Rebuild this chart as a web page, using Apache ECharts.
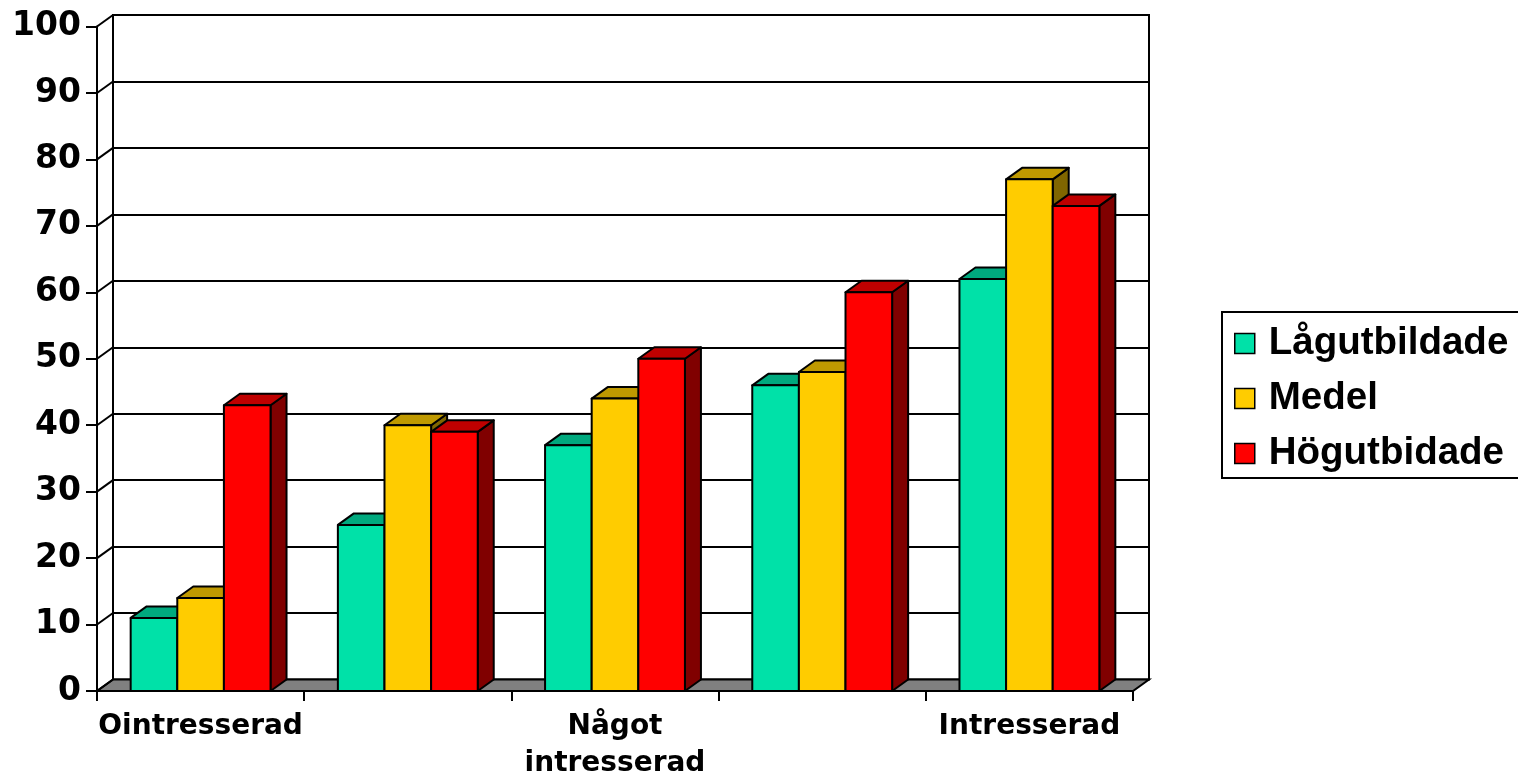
<!DOCTYPE html>
<html><head><meta charset="utf-8">
<script src="https://cdn.jsdelivr.net/npm/echarts@6/dist/echarts.min.js"></script>
<style>html,body{margin:0;padding:0;background:#fff}#c{width:1518px;height:781px}</style>
</head><body><div id="c"></div>
<script>
const categories = ['Ointresserad', '', 'Något intresserad', '', 'Intresserad'];
const seriesNames = ['Lågutbildade', 'Medel', 'Högutbidade'];
const lagutbildade = [11, 25, 37, 46, 62];
const medel = [14, 40, 44, 48, 77];
const hogutbidade = [43, 39, 50, 60, 73];
const yTicks = [0, 10, 20, 30, 40, 50, 60, 70, 80, 90, 100];

const seriesValues = [lagutbildade, medel, hogutbidade];
const faceColors = [
  {front: '#00E1A8', top: '#00A97E', side: '#007154'},
  {front: '#FFCC00', top: '#BF9900', side: '#806600'},
  {front: '#FF0000', top: '#BF0000', side: '#800000'}
];
const DX = 16, DY = -11.5;
const BAR_FRAC = 0.225;

function barRenderer(si) {
  return function (params, api) {
    const cat = api.value(0), val = api.value(1);
    const top = api.coord([cat, val]);
    const base = api.coord([cat, 0]);
    const cw = api.size([1, 0])[0];
    const bw = cw * BAR_FRAC;
    const x0 = top[0] - 1.5 * bw + si * bw;
    const x1 = x0 + bw;
    const yt = top[1], yb = base[1];
    const c = faceColors[si];
    const ls = {stroke: '#000', lineWidth: 2, lineJoin: 'round'};
    return {type: 'group', children: [
      {type: 'polygon', shape: {points: [[x1, yb], [x1 + DX, yb + DY], [x1 + DX, yt + DY], [x1, yt]]}, style: Object.assign({fill: c.side}, ls)},
      {type: 'polygon', shape: {points: [[x0, yt], [x1, yt], [x1 + DX, yt + DY], [x0 + DX, yt + DY]]}, style: Object.assign({fill: c.top}, ls)},
      {type: 'rect', shape: {x: x0, y: yt, width: bw, height: yb - yt}, style: Object.assign({fill: c.front}, ls)}
    ]};
  };
}

const barSeries = seriesNames.map((name, si) => ({
  name: name,
  type: 'custom',
  xAxisIndex: 0, yAxisIndex: 0,
  z: 5,
  itemStyle: {color: faceColors[si].front},
  renderItem: barRenderer(si),
  data: seriesValues[si].map((v, i) => [i, v])
}));

const chart = echarts.init(document.getElementById('c'));
chart.setOption({
  animation: false,
  backgroundColor: '#fff',
  grid: [
    {left: 97, right: 385, top: 26.5, bottom: 90, outerBoundsMode: 'none', containLabel: false},
    {left: 113, right: 369, top: 15, bottom: 101.5, outerBoundsMode: 'none', containLabel: false,
     show: true, borderColor: '#000', borderWidth: 2, backgroundColor: 'transparent'}
  ],
  xAxis: [
    {type: 'category', gridIndex: 0, data: categories, boundaryGap: true,
     axisLine: {show: true, lineStyle: {color: '#000', width: 2}},
     axisTick: {show: true, length: 10, interval: 0, alignWithLabel: false, lineStyle: {color: '#000', width: 2}},
     axisLabel: {interval: 0, margin: 17, color: '#000', fontFamily: 'DejaVu Sans', fontWeight: 'bold',
       fontSize: 28, lineHeight: 37, formatter: v => v.replace(' ', '\n')},
     splitLine: {show: false}},
    {type: 'value', gridIndex: 1, min: 0, max: 1, show: false}
  ],
  yAxis: [
    {type: 'value', gridIndex: 0, min: 0, max: 100, interval: 10,
     axisLine: {show: true, lineStyle: {color: '#000', width: 2}},
     axisTick: {show: true, length: 11, lineStyle: {color: '#000', width: 2}},
     axisLabel: {margin: 16, color: '#000', fontFamily: 'DejaVu Sans', fontWeight: 'bold', fontSize: 33},
     splitLine: {show: false}},
    {type: 'value', gridIndex: 1, min: 0, max: 100, interval: 10,
     axisLine: {show: false}, axisTick: {show: false}, axisLabel: {show: false},
     splitLine: {show: true, lineStyle: {color: '#000', width: 2}}}
  ],
  legend: {
    orient: 'vertical', left: 1222, top: 312, data: seriesNames,
    icon: 'rect', itemWidth: 20, itemHeight: 20, itemGap: 16,
    padding: [12, 30, 5, 12], borderColor: '#000', borderWidth: 2, backgroundColor: '#fff',
    itemStyle: {borderColor: '#000', borderWidth: 1.5},
    textStyle: {fontFamily: 'Liberation Sans', fontWeight: 'bold', fontSize: 38.5, color: '#000', lineHeight: 38, padding: [0, 0, 0, 9]},
    selectedMode: false
  },
  series: [
    {name: 'floor', type: 'custom', xAxisIndex: 0, yAxisIndex: 0, z: 2, silent: true,
     data: [[0, 0]],
     renderItem: function (params, api) {
       const cs = params.coordSys;
       const y = api.coord([0, 0])[1];
       return {type: 'polygon', shape: {points: [[cs.x, y], [cs.x + cs.width, y], [cs.x + cs.width + DX, y + DY], [cs.x + DX, y + DY]]},
         style: {fill: '#808080', stroke: '#000', lineWidth: 2}};
     }},
    {name: 'diagonals', type: 'custom', xAxisIndex: 0, yAxisIndex: 0, z: 2, silent: true,
     data: yTicks.map(v => [0, v]),
     renderItem: function (params, api) {
       const cs = params.coordSys;
       const y = api.coord([0, api.value(1)])[1];
       return {type: 'line', shape: {x1: cs.x, y1: y, x2: cs.x + DX, y2: y + DY}, style: {stroke: '#000', lineWidth: 2}};
     }}
  ].concat(barSeries)
});
</script>
</body></html>
